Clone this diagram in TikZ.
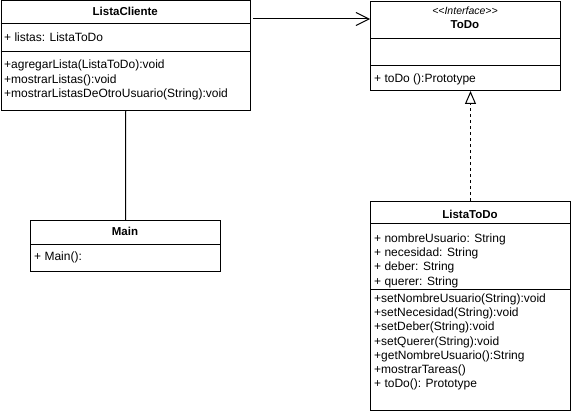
\documentclass[tikz,border=0pt]{standalone}
\usepackage{fontspec}
\setmainfont{Liberation Sans}
\usetikzlibrary{arrows.meta}
\begin{document}
\begin{tikzpicture}[x=1pt,y=-1pt,
  classbox/.style={draw=black, line width=1pt, inner sep=0pt, anchor=north west},
  divider/.style={draw=black, line width=1pt},
  member/.style={anchor=base west, inner sep=0pt, font=\fontsize{12}{14}\selectfont},
  ctitle/.style={anchor=base, inner sep=0pt, font=\fontsize{11.5}{14}\selectfont\bfseries},
  stereo/.style={anchor=base, inner sep=0pt, font=\fontsize{10.5}{12}\selectfont\itshape},
  assoc/.style={draw=black, line width=1pt, -{Straight Barb[length=13pt,width=13pt,line width=1pt]}},
  plainline/.style={draw=black, line width=1pt},
  realize/.style={draw=black, line width=1pt, dash pattern=on 3pt off 3pt, -{Triangle[open,length=13pt,width=11pt,line width=1pt,fill=white]}}
]
\useasboundingbox (0,0) rectangle (571,412);

% ListaCliente
\node[classbox, minimum width=249.5pt, minimum height=109.5pt] (lc) at (0.5,0.5) {};
\draw[divider] (0.5,24) -- (250,24);
\draw[divider] (0.5,52) -- (250,52);
\node[ctitle] (lct) at (125.25,16) {ListaCliente};
\node[member] (lca1) at (4,42) {+ listas: ListaToDo};
\node[member] (lcm1) at (4,68.5) {+agregarLista(ListaToDo):void};
\node[member] (lcm2) at (4,83.2) {+mostrarListas():void};
\node[member] (lcm3) at (4,98) {+mostrarListasDeOtroUsuario(String):void};

% ToDo
\node[classbox, minimum width=190pt, minimum height=89pt] (todo) at (370,1) {};
\draw[divider] (370,39) -- (560,39);
\draw[divider] (370,66) -- (560,66);
\node[stereo] (tds) at (465,15) {<\kern0pt<Interface>\kern0pt>};
\node[ctitle] (tdt) at (465,29) {ToDo};
\node[member] (tdm1) at (374,83) {+ toDo ():Prototype};

% Main
\node[classbox, minimum width=190pt, minimum height=51pt] (main) at (30,220) {};
\draw[divider] (30,244) -- (220,244);
\node[ctitle] (mt) at (125,235) {Main};
\node[member] (mm1) at (34,260) {+ Main():};

% ListaToDo
\node[classbox, minimum width=200pt, minimum height=209pt] (ltd) at (370,201) {};
\draw[divider] (370,223) -- (570,223);
\draw[divider] (370,289) -- (570,289);
\node[ctitle] (ltdt) at (470,218) {ListaToDo};
\node[member] (ltda1) at (374,242) {+ nombreUsuario: String};
\node[member] (ltda2) at (374,256.3) {+ necesidad: String};
\node[member] (ltda3) at (374,270.6) {+ deber: String};
\node[member] (ltda4) at (374,285) {+ querer: String};
\node[member] (ltdm1) at (374,302.3) {+setNombreUsuario(String):void};
\node[member] (ltdm2) at (374,316.5) {+setNecesidad(String):void};
\node[member] (ltdm3) at (374,330.7) {+setDeber(String):void};
\node[member] (ltdm4) at (374,345) {+setQuerer(String):void};
\node[member] (ltdm5) at (374,359.2) {+getNombreUsuario():String};
\node[member] (ltdm6) at (374,373.4) {+mostrarTareas()};
\node[member] (ltdm7) at (374,387.6) {+ toDo(): Prototype};

% connectors
\draw[assoc, shorten <=2pt] (lc.east |- 0,19) -- (todo.west |- 0,19);
\draw[plainline] (lc.south) -- (main.north);
\draw[realize] (ltd.north) -- (ltd.north |- todo.south);
\end{tikzpicture}
\end{document}
